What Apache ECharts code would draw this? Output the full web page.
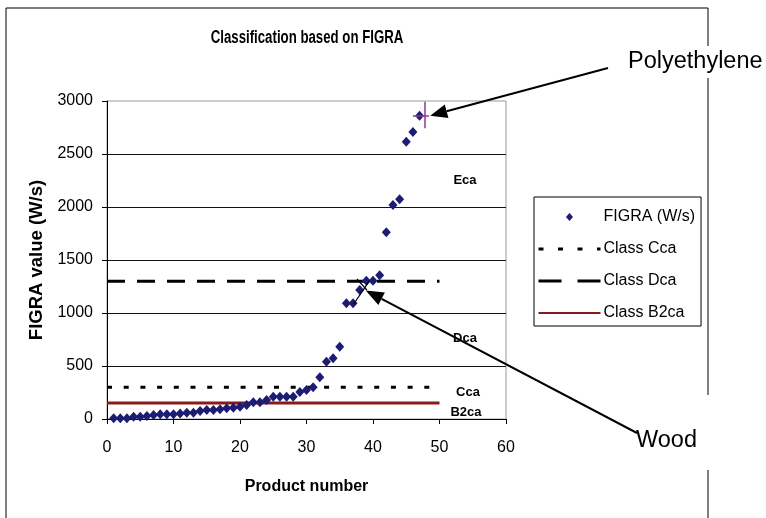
<!DOCTYPE html>
<html><head><meta charset="utf-8">
<script src="https://cdn.jsdelivr.net/npm/echarts@6/dist/echarts.min.js"></script>
<style>html,body{margin:0;padding:0;background:#fff}#c{width:766px;height:518px}</style>
</head><body><div id="c"></div>
<script>
// ---- data ----
const productNumbers = [1,2,3,4,5,6,7,8,9,10,11,12,13,14,15,16,17,18,19,20,21,22,23,24,25,26,27,28,29,30,31,32,33,34,35,36,37,38,39,40,41,42,43,44,45,46,47];
const figraValues = [7,7,7,22,22,28,38,44,44,44,53,59,59,75,85,85,91,101,107,116,132,157,157,179,210,210,210,210,255,274,299,393,541,572,682,1091,1091,1217,1305,1305,1355,1761,2019,2072,2616,2708,2861];
const classLineX = [0, 50];
const classCca = [300, 300];
const classDca = [1300, 1300];
const classB2ca = [150, 150];
const xTickValues = [0, 10, 20, 30, 40, 50, 60];
const yTickValues = [0, 500, 1000, 1500, 2000, 2500, 3000];
const classZoneLabels = ['Eca', 'Dca', 'Cca', 'B2ca'];
// annotation marks (data coords)
const polyethyleneCrossH = [[46.0, 2861], [48.4, 2861]];
const polyethyleneCrossV = [[47.75, 2742], [47.75, 2993]];
const woodCrossA = [[37.58, 1321], [39.08, 1217]];
const woodCrossB = [[37.09, 1085], [39.49, 1305]];

const FONT = 'Liberation Sans, Arial, sans-serif';
const zip = (xs, ys) => xs.map((x, i) => [x, ys[i]]);
const NAVY = '#1C1C72';

const chart = echarts.init(document.getElementById('c'), null, {renderer: 'canvas'});
const option = {
  animation: false,
  backgroundColor: '#fff',
  textStyle: {fontFamily: FONT, color: '#000'},
  grid: {left: 107, top: 101, right: 260, bottom: 99, show: true, borderColor: '#999', borderWidth: 1, containLabel: false},
  legend: {
    orient: 'vertical', left: 534, top: 197,
    data: [
      {name: 'FIGRA (W/s)', icon: 'path://M0 0L0.01 0ZM62 8L62.01 8ZM27.5 4L31 0L34.5 4L31 8Z'},
      {name: 'Class Cca', itemStyle: {opacity: 0}, lineStyle: {type: [5, 14.5], width: 3}},
      {name: 'Class Dca', itemStyle: {opacity: 0}, lineStyle: {type: [23, 16], width: 3}},
      {name: 'Class B2ca', itemStyle: {opacity: 0}}
    ],
    itemWidth: 62, itemHeight: 8, itemGap: 16,
    padding: [12, 6, 5, 3],
    borderColor: '#000', borderWidth: 1, backgroundColor: '#fff',
    textStyle: {fontFamily: FONT, fontSize: 16, color: '#000', padding: [0,0,0,-2]},
    selectedMode: false
  },
  xAxis: {
    type: 'value', min: xTickValues[0], max: xTickValues[xTickValues.length - 1], interval: 10,
    name: 'Product number', nameLocation: 'middle', nameGap: 60,
    nameTextStyle: {fontFamily: FONT, fontSize: 16, fontWeight: 'bold', color: '#000'},
    axisLine: {show: true, onZero: false, lineStyle: {color: '#000', width: 1}},
    axisTick: {show: true, inside: false, length: 5, lineStyle: {color: '#000'}},
    axisLabel: {fontFamily: FONT, fontSize: 16, color: '#000', margin: 21, formatter: v => String(v)},
    splitLine: {show: false}
  },
  yAxis: {
    type: 'value', min: yTickValues[0], max: yTickValues[yTickValues.length - 1], interval: 500,
    name: 'FIGRA value (W/s)', nameLocation: 'middle', nameGap: 52, nameRotate: 90,
    nameTextStyle: {fontFamily: FONT, fontSize: 18.5, fontWeight: 'bold', color: '#000'},
    axisLine: {show: true, onZero: false, lineStyle: {color: '#000', width: 1}},
    axisTick: {show: true, inside: false, length: 5, lineStyle: {color: '#000'}},
    axisLabel: {fontFamily: FONT, fontSize: 16, color: '#000', margin: 14, formatter: v => String(v)},
    splitLine: {show: true, showMaxLine: false, lineStyle: {color: '#111', width: 1}}
  },
  series: [
    {
      name: 'Class Cca', type: 'line', data: zip(classLineX, classCca), symbol: 'none', silent: true,
      color: '#000', lineStyle: {color: '#000', width: 3, type: [5, 11.7]}, z: 3
    },
    {
      name: 'Class Dca', type: 'line', data: zip(classLineX, classDca), symbol: 'none', silent: true,
      color: '#000', lineStyle: {color: '#000', width: 3, type: [18, 12]}, z: 3
    },
    {
      name: 'Class B2ca', type: 'line', data: zip(classLineX, classB2ca), symbol: 'none', silent: true,
      color: '#8B1A1A', lineStyle: {color: '#8B1A1A', width: 3, type: 'solid'}, z: 3
    },
    {
      name: 'FIGRA (W/s)', type: 'scatter', data: zip(productNumbers, figraValues),
      symbol: 'diamond', symbolSize: [9, 10], color: NAVY, itemStyle: {color: NAVY, opacity: 1}, z: 5
    },
    {
      name: 'polyCross', type: 'lines', coordinateSystem: 'cartesian2d', silent: true, z: 6,
      lineStyle: {color: '#8E3A8E', width: 1.5, opacity: 1},
      data: [{coords: polyethyleneCrossH}, {coords: polyethyleneCrossV}]
    },
    {
      name: 'woodCross', type: 'lines', coordinateSystem: 'cartesian2d', silent: true, z: 6,
      lineStyle: {color: '#000', width: 1.2, opacity: 1},
      data: [{coords: woodCrossA}, {coords: woodCrossB}]
    }
  ]
};
chart.setOption(option);

function arrow(x1, y1, x2, y2, len, half) {
  const dx = x2 - x1, dy = y2 - y1, L = Math.hypot(dx, dy);
  const ux = dx / L, uy = dy / L;
  const bx = x2 - ux * len, by = y2 - uy * len;
  return [
    {type: 'line', shape: {x1: x1, y1: y1, x2: bx, y2: by}, style: {stroke: '#000', lineWidth: 2}, z: 100},
    {type: 'polygon', shape: {points: [[x2, y2], [bx - uy * half, by + ux * half], [bx + uy * half, by - ux * half]]}, style: {fill: '#000'}, z: 100}
  ];
}
const polyTip = chart.convertToPixel({gridIndex: 0}, [48.6, 2862]);
const woodTip = chart.convertToPixel({gridIndex: 0}, [38.9, 1213]);
const zoneLabelPos = [[465, 180], [465, 338], [468, 392], [466, 412]];
const graphics = [].concat(
  arrow(608, 68, polyTip[0], polyTip[1], 17, 7),
  arrow(637, 433, woodTip[0], woodTip[1], 18, 7),
  [
    {type: 'text', x: 307, y: 38, scaleX: 0.735, style: {text: 'Classification based on FIGRA', font: 'bold 18px ' + FONT, fill: '#000', textAlign: 'center', textVerticalAlign: 'middle'}, z: 100},
    {type: 'text', x: 628, y: 62, style: {text: 'Polyethylene', font: '23.5px ' + FONT, fill: '#000', textVerticalAlign: 'middle'}, z: 100},
    {type: 'text', x: 636, y: 441, style: {text: 'Wood', font: '23.5px ' + FONT, fill: '#000', textVerticalAlign: 'middle'}, z: 100},
    {type: 'polyline', shape: {points: [[708, 46], [708, 8], [6, 8], [6, 518]]}, style: {stroke: '#000', lineWidth: 1, fill: null}, z: 1},
    {type: 'line', shape: {x1: 708, y1: 78, x2: 708, y2: 395}, style: {stroke: '#000', lineWidth: 1}, z: 1},
    {type: 'line', shape: {x1: 708, y1: 470, x2: 708, y2: 518}, style: {stroke: '#000', lineWidth: 1}, z: 1}
  ],
  classZoneLabels.map((t, i) => ({
    type: 'text', x: zoneLabelPos[i][0], y: zoneLabelPos[i][1],
    style: {text: t, font: 'bold 13px ' + FONT, fill: '#000', textAlign: 'center', textVerticalAlign: 'middle'}, z: 100
  }))
);
chart.setOption({graphic: graphics});
</script></body></html>
